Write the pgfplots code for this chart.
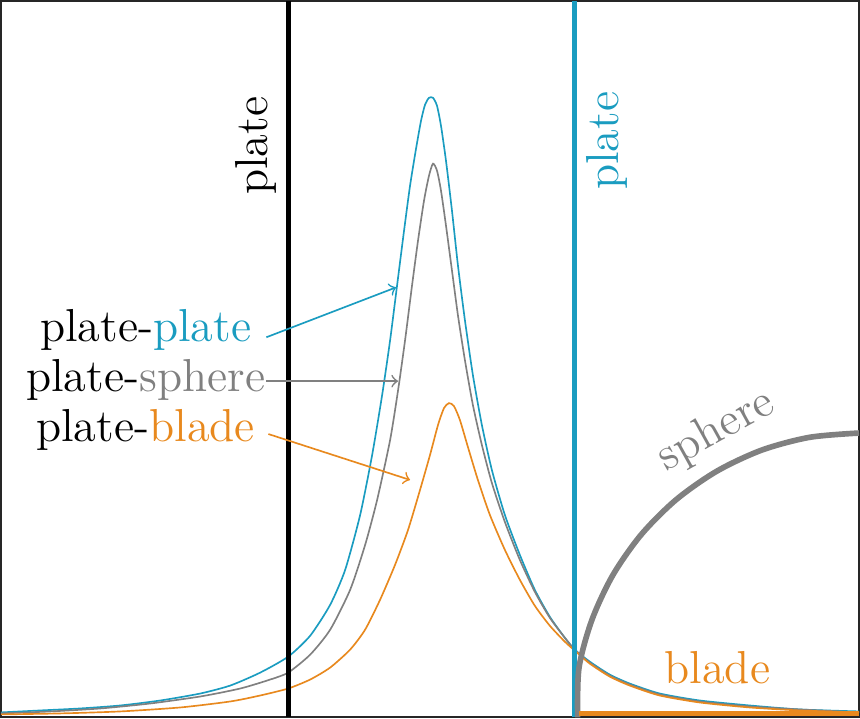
\documentclass[border=0pt]{standalone}
\usepackage{fontspec}
\usepackage{pgfplots}
\pgfplotsset{compat=1.18}
\definecolor{cblue}{RGB}{26,156,192}
\definecolor{corange}{RGB}{232,137,30}
\definecolor{cgray}{RGB}{128,128,128}
\tikzset{lbl/.style={font=\fontsize{13.9}{16.5}\selectfont, inner sep=1pt}}
\begin{document}
\begin{tikzpicture}
\begin{axis}[
  scale only axis, width=258pt, height=215.4pt,
  xmin=0, xmax=860, ymin=0, ymax=718, y dir=reverse,
  xtick=\empty, ytick=\empty,
  axis line style={black!85, line width=0.6pt},
  clip=true,
]
% plate-plate
\addplot[cblue, line width=0.5pt, smooth, tension=0.4] coordinates {
(0,713) (40,711) (80,709) (120,706) (160,701) (200,694) (230,686) (260,673) (288,657) (310,636) (330,605) (345,570) (360,515) (372,455) (382,395) (390,340) (397,285) (404,230) (410,185) (416,148) (421,120) (425,104) (429,97) (433,97) (437,105) (441,125) (446,160) (452,210) (458,265) (465,320) (473,375) (482,425) (492,470) (505,515) (520,555) (535,590) (550,617) (565,638) (575,650) (590,662) (610,675) (630,684) (660,694) (700,701) (750,706) (800,710) (860,712)};
% plate-sphere
\addplot[cgray, line width=0.5pt, smooth, tension=0.4] coordinates {
(0,714) (50,712) (100,709) (150,704) (200,697) (240,689) (270,680) (288,673) (310,655) (330,630) (350,590) (365,545) (377,500) (390,440) (398,390) (405,340) (412,285) (418,240) (424,200) (429,175) (433,163) (437,170) (441,190) (446,225) (452,270) (458,315) (465,360) (473,405) (482,445) (492,483) (505,522) (520,560) (535,592) (550,618) (565,638) (575,650) (590,663) (610,676) (630,685) (660,695) (700,702) (750,707) (800,710) (860,713)};
% plate-blade
\addplot[corange, line width=0.5pt, smooth, tension=0.4] coordinates {
(0,715) (60,714) (120,712) (180,708) (230,702) (260,696) (288,689) (310,680) (330,668) (350,650) (365,630) (380,600) (395,565) (408,530) (420,490) (430,455) (438,425) (444,408) (449,403) (454,406) (460,420) (468,447) (478,480) (490,515) (505,550) (520,580) (535,606) (550,626) (565,642) (575,651) (590,664) (610,677) (630,686) (660,696) (700,703) (750,708) (800,711) (860,713)};
% plates
\addplot[black, line width=1.5pt] coordinates {(288,0) (288,718)};
\addplot[cblue, line width=1.5pt] coordinates {(575,0) (575,718)};
% sphere
\addplot[cgray, line width=1.7pt, smooth] coordinates {
(578,718) (579.3,668.5) (592.2,620.5) (613.2,575.5) (641.7,534.8) (676.8,499.7) (717.5,471.2) (762.5,450.1) (810.4,437.3) (860,433)};
% blade
\addplot[corange, line width=1.6pt] coordinates {(579,714) (860,714)};
% labels
\node[lbl, rotate=90, text=black] at (axis cs:256,145) {plate};
\node[lbl, rotate=90, text=cblue] at (axis cs:607,140) {plate};
\node[lbl, rotate=29, text=cgray] at (axis cs:717,431) {sphere};
\node[lbl, text=corange] at (axis cs:718,668) {blade};
\node[lbl] at (axis cs:145,330) {plate-\textcolor{cblue}{plate}};
\node[lbl] at (axis cs:145,380) {plate-\textcolor{cgray}{sphere}};
\node[lbl] at (axis cs:145,430) {plate-\textcolor{corange}{blade}};
% arrows
\draw[->, cblue, line width=0.5pt] (axis cs:266,337) -- (axis cs:396,287);
\draw[->, cgray, line width=0.5pt] (axis cs:266,381) -- (axis cs:398,381);
\draw[->, corange, line width=0.5pt] (axis cs:268,434) -- (axis cs:410,480);
\end{axis}
\end{tikzpicture}
\end{document}
